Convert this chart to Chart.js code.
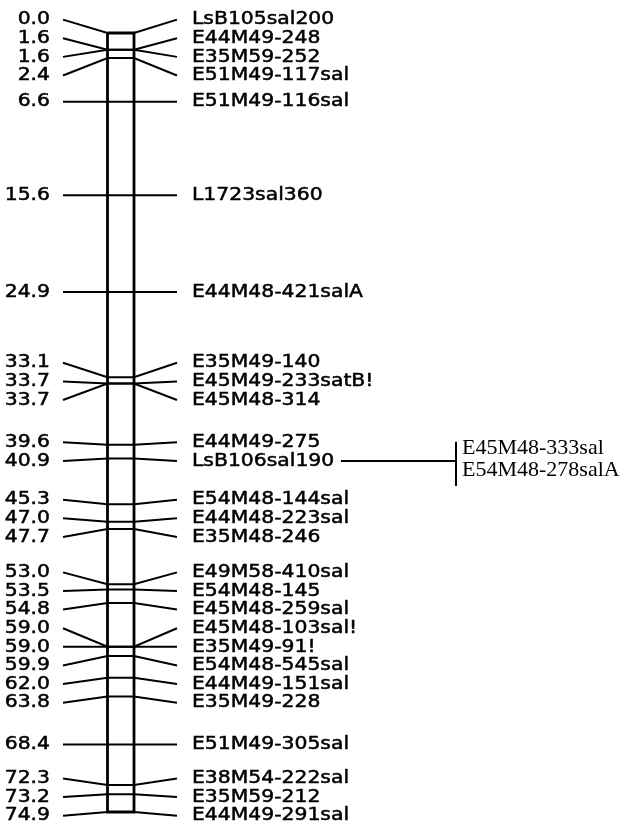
<!DOCTYPE html>
<html>
<head>
<meta charset="utf-8">
<script src="https://cdn.jsdelivr.net/npm/chart.js@4/dist/chart.umd.min.js"></script>
<style>
  html, body { margin: 0; padding: 0; background: #fff; }
  #wrap { width: 627px; height: 833px; position: relative; }
</style>
</head>
<body>
<div id="wrap"><canvas id="mapa"></canvas></div>
<script>
// posiciones en cM y nombres de marcadores
const posiciones = [0.0, 1.6, 1.6, 2.4, 6.6, 15.6, 24.9, 33.1, 33.7, 33.7, 39.6, 40.9, 45.3, 47.0, 47.7,
    53.0, 53.5, 54.8, 59.0, 59.0, 59.9, 62.0, 63.8, 68.4, 72.3, 73.2, 74.9];
const marcadores = ['LsB105sal200', 'E44M49-248', 'E35M59-252', 'E51M49-117sal', 'E51M49-116sal',
    'L1723sal360', 'E44M48-421salA', 'E35M49-140', 'E45M49-233satB!', 'E45M48-314', 'E44M49-275',
    'LsB106sal190', 'E54M48-144sal', 'E44M48-223sal', 'E35M48-246', 'E49M58-410sal', 'E54M48-145',
    'E45M48-259sal', 'E45M48-103sal!', 'E35M49-91!', 'E54M48-545sal', 'E44M49-151sal', 'E35M49-228',
    'E51M49-305sal', 'E38M54-222sal', 'E35M59-212', 'E44M49-291sal'];
// marcadores cosegregantes con LsB106sal190
const marcadorLigado = 'LsB106sal190';
const cosegregantes = ['E45M48-333sal', 'E54M48-278salA'];

// separa las etiquetas para que no se encimen (en cM)
function repartirEtiquetas(vals, gap) {
    const grupos = [];
    vals.forEach(v => {
        grupos.push({ suma: v, n: 1, ini: v });
        while (grupos.length > 1) {
            const b = grupos[grupos.length - 1], a = grupos[grupos.length - 2];
            if (b.ini >= a.ini + a.n * gap) break;
            a.suma += b.suma; a.n += b.n;
            a.ini = a.suma / a.n - (a.n - 1) * gap / 2;
            grupos.pop();
        }
    });
    const out = [];
    grupos.forEach(g => { for (let i = 0; i < g.n; i++) out.push(g.ini + i * gap); });
    return out;
}

const etiquetasY = repartirEtiquetas(posiciones, 1.79);
const X = { numero: 50, izq: 63, barraI: 107.5, barraD: 134, der: 177, nombre: 192 };
const fin = posiciones[posiciones.length - 1];

const negro = '#000';
const datasets = [];
// cromosoma
datasets.push({
    data: [{ x: X.barraI, y: 0 }, { x: X.barraD, y: 0 }, { x: X.barraD, y: fin }, { x: X.barraI, y: fin }, { x: X.barraI, y: 0 }],
    borderColor: negro, borderWidth: 2.8
});
// lineas de cada marcador
posiciones.forEach((p, i) => {
    datasets.push({
        data: [{ x: X.izq, y: etiquetasY[i] }, { x: X.barraI, y: p }, { x: X.barraD, y: p }, { x: X.der, y: etiquetasY[i] }],
        borderColor: negro, borderWidth: 2
    });
});
// conexion a los cosegregantes
const iLig = marcadores.indexOf(marcadorLigado);
const yLig = etiquetasY[iLig];
datasets.push({ data: [{ x: 341, y: yLig }, { x: 456, y: yLig }], borderColor: negro, borderWidth: 2 });
datasets.push({ data: [{ x: 456, y: yLig - 1.85 }, { x: 456, y: yLig + 2.4 }], borderColor: negro, borderWidth: 2 });

// texto ancho (la fuente original es mas ancha que DejaVu)
function textoAncho(ctx, t, x, y, align) {
    ctx.save();
    ctx.translate(x, y);
    ctx.scale(1.13, 1);
    ctx.textAlign = align;
    ctx.fillText(t, 0, 0);
    ctx.strokeText(t, 0, 0);
    ctx.restore();
}

const textos = {
    id: 'textos',
    afterDatasetsDraw(chart) {
        const ctx = chart.ctx, xs = chart.scales.x, ys = chart.scales.y;
        ctx.save();
        ctx.fillStyle = negro;
        ctx.strokeStyle = negro;
        ctx.lineWidth = 0.5;
        ctx.textBaseline = 'middle';
        ctx.font = '18px "DejaVu Sans"';
        posiciones.forEach((p, i) => {
            const y = ys.getPixelForValue(etiquetasY[i]);
            textoAncho(ctx, p.toFixed(1), xs.getPixelForValue(X.numero), y, 'right');
            textoAncho(ctx, marcadores[i], xs.getPixelForValue(X.nombre), y, 'left');
        });
        ctx.font = '22px "Liberation Serif"';
        ctx.textAlign = 'left';
        cosegregantes.forEach((m, k) => {
            ctx.fillText(m, xs.getPixelForValue(462), ys.getPixelForValue(yLig - 1.25 + k * 2.15));
        });
        ctx.restore();
    }
};

new Chart(document.getElementById('mapa'), {
    type: 'scatter',
    data: { datasets: datasets.map(d => Object.assign({ showLine: true, pointRadius: 0, clip: false, tension: 0 }, d)) },
    options: {
        responsive: true,
        maintainAspectRatio: false,
        animation: false,
        layout: { padding: { top: 33, bottom: 21, left: 0, right: 0 } },
        plugins: { legend: { display: false }, tooltip: { enabled: false } },
        scales: {
            x: { type: 'linear', min: 0, max: 627, display: false },
            y: { type: 'linear', min: 0, max: fin, reverse: true, display: false }
        }
    },
    plugins: [textos]
});
</script>
</body>
</html>
